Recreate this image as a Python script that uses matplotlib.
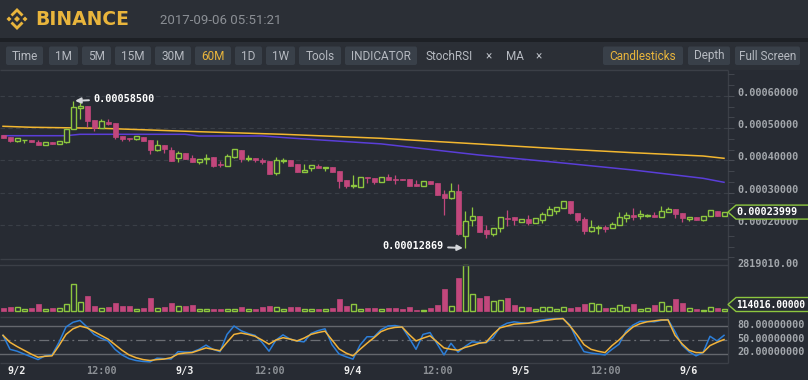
import matplotlib
matplotlib.use("Agg")
import matplotlib.pyplot as plt
from matplotlib.patches import Rectangle, Polygon, FancyBboxPatch
from matplotlib.ticker import MultipleLocator
from matplotlib import transforms

# ---- data (prices in satoshi, 1e-8 BTC) ----
opens = [47800, 47280, 46130, 46250, 46250, 45730, 44890, 45820, 45020, 45820,
         49670, 56370, 56890, 52550, 50160, 51930, 51620, 47590, 47060, 46750,
         47280, 46350, 43340, 44890, 43250, 40860, 42320, 40770, 39530, 40370,
         41080, 38900, 38380, 41080, 43250, 40370, 40770, 40150, 39840, 36210,
         39750, 40150, 38910, 36430, 37580, 38380, 37670, 37980, 36740, 33860,
         32190, 31870, 34880, 34480, 33420, 34880, 34260, 34260, 34260, 32800,
         32180, 33640, 33020, 29700, 28280, 30630, 16680, 21550, 22790, 18540,
         17300, 18980, 22260, 22480, 21020, 21860, 20710, 21460, 23190, 24430,
         25360, 27440, 23810, 21860, 18140, 19170, 19480, 19170, 19900, 22260,
         23100, 22880, 22690, 23100, 22570, 24120, 24960, 23810, 21950, 22570,
         21640, 22700, 24340, 22790]
highs = [47800, 47280, 46880, 46400, 46250, 46440, 45640, 45820, 46040, 49760,
         58500, 58040, 56890, 52550, 52950, 52770, 51620, 47590, 47060, 47590,
         47280, 46350, 46250, 44890, 44270, 42940, 42320, 41790, 40370, 41920,
         41080, 39840, 41920, 43560, 43250, 41700, 40770, 40770, 39840, 40990,
         40770, 40150, 38910, 38820, 38600, 39000, 37980, 37980, 36740, 33860,
         35500, 34880, 34880, 34480, 34790, 35720, 35500, 34400, 34260, 33860,
         33550, 33640, 33020, 30940, 32930, 32620, 24340, 25490, 22790, 19900,
         19070, 22390, 24560, 22480, 21860, 22970, 22080, 24120, 25800, 25490,
         27440, 27440, 23810, 22570, 21460, 20000, 20000, 20930, 24030, 24140,
         25380, 24770, 23320, 24140, 25890, 25580, 24960, 23810, 22570, 22570,
         22700, 24560, 24340, 23999]
lows = [47050, 45820, 45640, 45500, 45730, 44890, 44890, 45200, 45020, 45330,
        49670, 52770, 50470, 49050, 50160, 51000, 46570, 46130, 46130, 46250,
        46040, 41920, 42940, 42230, 39840, 39440, 40460, 39530, 39000, 39000,
        38070, 38070, 38380, 40770, 39620, 39840, 39620, 38900, 35900, 35590,
        39220, 38290, 36430, 36430, 36740, 37670, 36830, 36430, 31380, 31380,
        31380, 31870, 33110, 32620, 33420, 33950, 32830, 33950, 32180, 32180,
        32180, 32710, 29300, 23100, 28060, 16900, 12869, 19780, 17920, 15880,
        16590, 17740, 19780, 20000, 21020, 20000, 20710, 20710, 23190, 23500,
        25360, 23500, 21000, 17120, 17740, 17350, 17980, 19170, 19900, 20930,
        21660, 21860, 22380, 22570, 22570, 24120, 22260, 21020, 21320, 21640,
        21320, 22700, 22700, 22790]
closes = [47050, 46130, 46880, 46300, 45730, 44890, 45640, 45200, 46040, 49760,
          56670, 56990, 52240, 50160, 52240, 51310, 47370, 46660, 46750, 47590,
          46040, 43250, 44800, 43560, 39840, 42320, 40460, 39530, 40370, 40770,
          38380, 38600, 41390, 43560, 40550, 40680, 40150, 39530, 35900, 40060,
          40060, 38290, 36430, 37050, 38600, 37670, 37980, 36430, 33730, 32090,
          32400, 34880, 34570, 33330, 34790, 33950, 33950, 33950, 32180, 32180,
          33550, 32710, 29300, 28370, 30540, 17120, 21240, 22790, 17920, 17300,
          19070, 22390, 21950, 21460, 21860, 20710, 22080, 23410, 24960, 25490,
          27440, 23810, 21550, 18140, 19380, 19480, 18760, 20310, 22390, 23100,
          22480, 23320, 23010, 22570, 24340, 24960, 23500, 22260, 22570, 21640,
          22700, 24560, 22700, 23999]
volumes = [185000, 290000, 290000, 165000, 185000, 430000, 165000, 185000, 226000, 452000,
           1645000, 555000, 905000, 350000, 226000, 247000, 494000, 308000, 308000, 165000,
           185000, 802000, 226000, 247000, 494000, 350000, 308000, 411000, 123000, 123000,
           144000, 123000, 123000, 123000, 290000, 123000, 144000, 290000, 350000, 290000,
           123000, 247000, 247000, 165000, 165000, 144000, 123000, 185000, 740000, 350000,
           473000, 165000, 185000, 185000, 165000, 185000, 226000, 144000, 290000, 103000,
           103000, 185000, 411000, 1337000, 350000, 2036000, 2819010, 1069000, 802000, 905000,
           658000, 720000, 802000, 411000, 267000, 290000, 165000, 267000, 267000, 165000,
           267000, 226000, 247000, 473000, 514000, 432000, 226000, 206000, 391000, 290000,
           473000, 165000, 226000, 391000, 576000, 350000, 740000, 534000, 226000, 165000,
           103000, 247000, 185000, 114016]

ma_long_idx = [0, 4, 14, 28, 40, 54, 68, 80, 90, 100, 103]
ma_long = [50600, 50300, 49980, 48920, 48120, 46880, 45110, 43560, 42410, 41390, 40680]
ma_short_idx = [0, 9, 11, 26, 28, 37, 41, 54, 68, 80, 90, 100, 103]
ma_short = [47680, 47680, 48120, 48120, 47590, 47590, 46970, 45150, 41700, 39220, 37050, 34480, 33240]

stoch_k = [60, 30, 26, 20, 14, 8, 16, 18, 45, 78, 88, 92, 78, 62, 54, 48, 30, 18, 10, 6,
           4, 3, 11, 10, 9, 25, 24, 24, 30, 39, 30, 25, 62, 80, 70, 64, 60, 45, 26, 50,
           61, 52, 48, 46, 64, 70, 74, 40, 20, 14, 9, 39, 57, 57, 72, 80, 81, 78, 55, 30,
           62, 66, 42, 18, 43, 24, 36, 46, 45, 44, 55, 78, 86, 89, 87, 86, 91, 93, 95, 96,
           96, 82, 50, 25, 22, 20, 18, 30, 41, 69, 82, 90, 90, 89, 92, 94, 68, 39, 25, 16,
           23, 58, 48, 60]
stoch_d = [60, 45, 36, 28, 20, 13, 15, 16, 38, 62, 74, 80, 76, 68, 60, 52, 40, 28, 18, 12,
           8, 6, 8, 9, 12, 20, 22, 23, 28, 33, 30, 27, 45, 62, 65, 62, 58, 50, 41, 50,
           55, 52, 48, 54, 62, 66, 69, 50, 31, 22, 16, 30, 43, 55, 68, 74, 77, 78, 62, 48,
           54, 59, 46, 33, 30, 28, 34, 38, 43, 45, 62, 76, 80, 84, 85, 86, 88, 91, 93, 95,
           96, 80, 61, 40, 30, 26, 23, 38, 50, 65, 78, 85, 89, 91, 93, 93, 60, 42, 28, 23,
           23, 38, 45, 51]

price_grid = [20000, 30000, 40000, 50000, 60000]
stoch_levels = [20, 50, 80]
xt_idx = [2, 14, 26, 38, 50, 62, 74, 86, 98]
xt_lab = ['9/2', '12:00', '9/3', '12:00', '9/4', '12:00', '9/5', '12:00', '9/6']
buttons = [('Time', 6, 43), ('1M', 49, 78), ('5M', 82, 111), ('15M', 115, 151),
           ('30M', 155, 191), ('60M', 195, 231), ('1D', 235, 262), ('1W', 266, 295),
           ('Tools', 299, 341), ('INDICATOR', 345, 417), ('Candlesticks', 603, 683),
           ('Depth', 688, 730), ('Full Screen', 735, 800)]

# ---- style ----
W, H = 808, 380
BG = '#272b33'
HEAD = '#2b2f36'
LINE = '#3b3f47'
GOLD = '#e9b53c'
PINK = '#c2477c'
GREEN = '#8dc63f'
AXTXT = '#a3a7ac'
MONO = 'DejaVu Sans Mono'

fig = plt.figure(figsize=(W / 100, H / 100), dpi=100, facecolor=BG)
ui = fig.add_axes([0, 0, 1, 1])
ui.set_xlim(0, W)
ui.set_ylim(H, 0)
ui.axis('off')

# header + toolbar
ui.add_patch(Rectangle((0, 0), W, 38, color=HEAD, lw=0))
ui.add_patch(Rectangle((0, 38), W, 4, color='#1d2025', lw=0))
ui.add_patch(Rectangle((0, 42), W, 28, color=HEAD, lw=0))

cx, cy = 17, 19
logo = [[(0, -3), (3, 0), (0, 3), (-3, 0)],
        [(-8, -2.5), (-5.5, 0), (-8, 2.5), (-10.5, 0)],
        [(8, -2.5), (10.5, 0), (8, 2.5), (5.5, 0)],
        [(0, -11), (6.5, -4.5), (4.5, -2.5), (0, -7), (-4.5, -2.5), (-6.5, -4.5)],
        [(0, 11), (6.5, 4.5), (4.5, 2.5), (0, 7), (-4.5, 2.5), (-6.5, 4.5)]]
for shape in logo:
    ui.add_patch(Polygon([(cx + a, cy + b) for a, b in shape], closed=True, color=GOLD, lw=0))
ui.text(35, 19.5, 'BINANCE', fontsize=13.5, fontweight='bold', color=GOLD, va='center',
        family='DejaVu Sans')
ui.text(160, 20, '2017-09-06 05:51:21', fontsize=9.5, color='#8b8f95', va='center', family='Roboto')

for lab, x0, x1 in buttons:
    ui.add_patch(FancyBboxPatch((x0 + 1, 47.5), x1 - x0 - 2, 16.5,
                                boxstyle='round,pad=1,rounding_size=2', fc='#394049', ec='none'))
    col = GOLD if lab in ('60M', 'Candlesticks') else '#b6bac1'
    ui.text((x0 + x1) / 2, 56, lab, fontsize=8.5, color=col, ha='center', va='center', family='Roboto')
ui.text(425, 56, 'StochRSI', fontsize=8.5, color='#b6bac1', va='center', family='Roboto')
ui.text(489, 56, '×', fontsize=8.5, color='#b6bac1', ha='center', va='center', family='Roboto')
ui.text(506, 56, 'MA', fontsize=8.5, color='#b6bac1', va='center', family='Roboto')
ui.text(539, 56, '×', fontsize=8.5, color='#b6bac1', ha='center', va='center', family='Roboto')

# panel frame lines
ui.hlines([70, 259, 316.7, 363.3], 0, 728, color=LINE, lw=1)
ui.vlines(728, 70, 363.3, color=LINE, lw=1)


def px_axes(x0, y0, x1, y1):
    a = fig.add_axes([x0 / W, 1 - y1 / H, (x1 - x0) / W, (y1 - y0) / H])
    a.set_facecolor('none')
    for s in a.spines.values():
        s.set_visible(False)
    a.set_xticks([])
    a.set_yticks([])
    a.set_xlim(-0.43, 103.57)
    return a


n = len(closes)
bw = 5 / 7

# ---- price panel ----
ax = px_axes(0, 70, 728, 259)
ax.set_ylim(9460, 68050)
for g in price_grid:
    ax.axhline(g, color='#3a3f47', lw=0.8, dashes=(4, 3), zorder=0)
ax.plot(ma_long_idx, ma_long, color='#f3b730', lw=1.1, zorder=1)
ax.plot(ma_short_idx, ma_short, color='#5a3ed8', lw=1.1, zorder=1)
for i in range(n):
    o, h, l, c = opens[i], highs[i], lows[i], closes[i]
    up = c >= o
    col = GREEN if up else PINK
    ax.vlines(i, l, h, color=col, lw=0.9, zorder=2)
    bot = min(o, c)
    hgt = max(abs(c - o), 250)
    if up:
        ax.add_patch(Rectangle((i - bw / 2, bot), bw, hgt, fc=BG, ec=col, lw=1.0, zorder=3))
    else:
        ax.add_patch(Rectangle((i - bw / 2, bot), bw, hgt, fc=col, ec=col, lw=0.5, zorder=3))

ax.yaxis.tick_right()
ax.set_yticks(price_grid)
ax.set_yticklabels([])
ax.yaxis.set_minor_locator(MultipleLocator(10000 / 3))
ax.tick_params(axis='y', which='both', length=4, color='#474b53', direction='out', right=True)
tr = transforms.offset_copy(ax.get_yaxis_transform(), fig=fig, x=9, y=3, units='dots')
for g in price_grid:
    ax.text(1.0, g, '%.8f' % (g / 1e8), transform=tr, fontsize=7.3, color=AXTXT,
            fontweight='bold', family=MONO, va='center', ha='left')

hi_i = highs.index(max(highs))
lo_i = lows.index(min(lows))
arrow = dict(arrowstyle='-|>', color='#d4d6da', lw=1.4, mutation_scale=8, shrinkA=1, shrinkB=0)
ax.annotate('%.8f' % (highs[hi_i] / 1e8), xy=(hi_i + 0.3, highs[hi_i]), xytext=(18, 2),
            textcoords='offset pixels', fontsize=7.3, fontweight='bold', color='white',
            family=MONO, va='center', ha='left', arrowprops=arrow, zorder=5)
ax.annotate('%.8f' % (lows[lo_i] / 1e8), xy=(lo_i - 0.3, lows[lo_i]), xytext=(-19, 2),
            textcoords='offset pixels', fontsize=7.3, fontweight='bold', color='white',
            family=MONO, va='center', ha='right', arrowprops=arrow, zorder=5)

# ---- volume panel ----
vax = px_axes(0, 259, 728, 316.7)
vmax = max(volumes)
vax.set_ylim(-327000, 3189000)
vax.axhline(vmax, color=LINE, lw=1)
for i in range(n):
    up = closes[i] >= opens[i]
    col = GREEN if up else PINK
    if up:
        vax.add_patch(Rectangle((i - bw / 2, 0), bw, volumes[i], fc=BG, ec=col, lw=1.0))
    else:
        vax.add_patch(Rectangle((i - bw / 2, 0), bw, volumes[i], fc=col, ec=col, lw=0.5))
trv = transforms.offset_copy(vax.get_yaxis_transform(), fig=fig, x=9, y=1, units='dots')
vax.text(1.0, vmax, '%.2f' % vmax, transform=trv, fontsize=7.3, color=AXTXT,
         fontweight='bold', family=MONO, va='center', ha='left')

# ---- stoch rsi panel ----
sax = px_axes(0, 316.7, 728, 363.3)
sax.set_ylim(0, 100)
for lv in stoch_levels:
    if lv == 50:
        sax.axhline(lv, color='#6b6e74', lw=0.9, dashes=(8, 3, 1.5, 3))
    else:
        sax.axhline(lv, color='#64676d', lw=1.0)
sax.plot(range(n), stoch_k, color='#2d7fd9', lw=1.1)
sax.plot(range(n), stoch_d, color='#f2b33a', lw=1.1)
trs = transforms.offset_copy(sax.get_yaxis_transform(), fig=fig, x=9, y=1.5, units='dots')
for lv in stoch_levels:
    sax.text(1.0, lv, '%.8f' % lv, transform=trs, fontsize=7.3, color=AXTXT,
             fontweight='bold', family=MONO, va='center', ha='left')
trx = transforms.offset_copy(sax.get_xaxis_transform(), fig=fig, x=0, y=-8, units='dots')
for i, lab in zip(xt_idx, xt_lab):
    col = '#8c9095' if ':' in lab else '#eeeeee'
    sax.text(i, 0, lab, transform=trx, fontsize=7.3, color=col, fontweight='bold',
             family=MONO, ha='center', va='center')

# ---- last value tags (on top) ----
top = fig.add_axes([0, 0, 1, 1])
top.set_xlim(0, W)
top.set_ylim(H, 0)
top.axis('off')
top.set_facecolor('none')


def tag(y, text, size=7.3):
    pts = [(728, y), (736, y - 7), (812, y - 7), (812, y + 7), (736, y + 7)]
    top.add_patch(Polygon(pts, closed=True, fc=BG, ec=GREEN, lw=1.0))
    top.text(736, y, text, fontsize=size, color='white', fontweight='bold', family=MONO,
             va='center', ha='left')


yp = H - ax.transData.transform((0, closes[-1]))[1]
tag(yp, '%.8f' % (closes[-1] / 1e8))
yv = H - vax.transData.transform((0, volumes[-1]))[1]
tag(min(yv, 304.5), '%.5f' % volumes[-1], size=6.9)

fig.savefig('out.png', dpi=100, facecolor=BG)
